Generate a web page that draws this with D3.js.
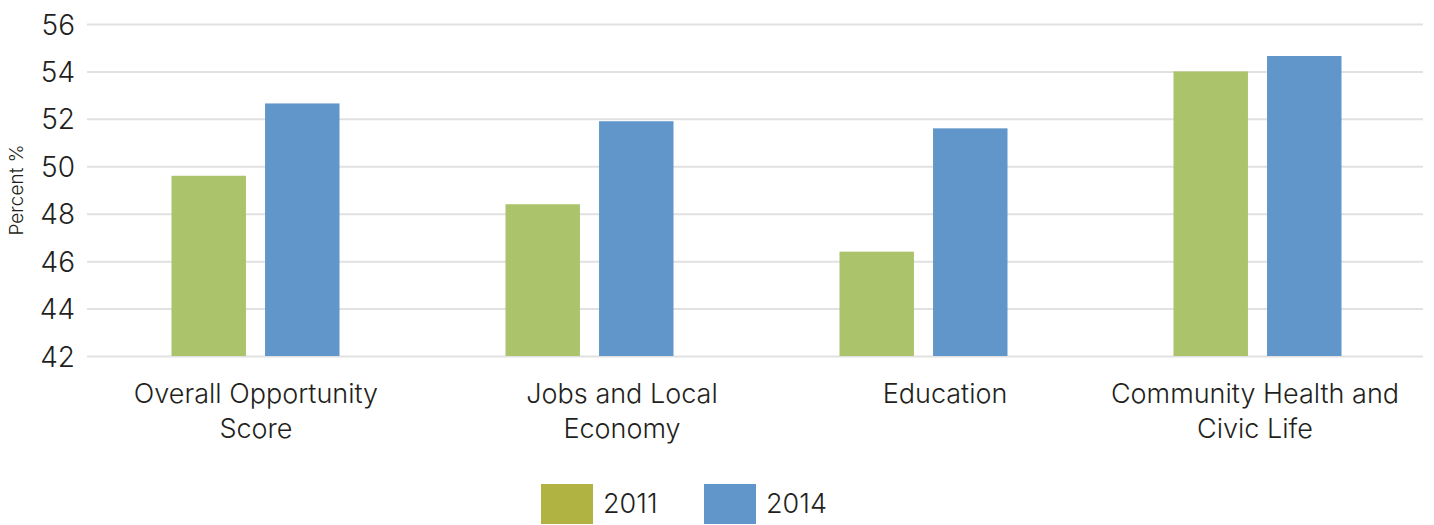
<!DOCTYPE html>
<html>
<head>
<meta charset="utf-8">
<script src="https://cdn.jsdelivr.net/npm/d3@7/dist/d3.min.js"></script>
<style>
  html, body { margin: 0; padding: 0; background: #fff; }
  svg { display: block; }
  text { font-family: Inter, "Liberation Sans", Arial, sans-serif; font-weight: 300; fill: #231f20; }
</style>
</head>
<body>
<svg id="chart" width="1434" height="525"></svg>
<script>
const categories = [
  ["Overall Opportunity", "Score"],
  ["Jobs and Local", "Economy"],
  ["Education"],
  ["Community Health and", "Civic Life"]
];
const seriesNames = ["2011", "2014"];
const values2011 = [49.6, 48.4, 46.4, 54.0];
const values2014 = [52.65, 51.9, 51.6, 54.65];
const yTicks = [42, 44, 46, 48, 50, 52, 54, 56];

const barColors = ["#abc46c", "#6096c9"];
const legendColors = ["#b0b241", "#6096c9"];
// horizontal offsets of each category label from its band centre (layout)
const labelShift = [0, 32, 21, -3];

const svg = d3.select("#chart");
const plot = { left: 87, right: 1423, top: 24, bottom: 356 };

const catKeys = categories.map((c, i) => i);
const x0 = d3.scaleBand().domain(catKeys).range([plot.left, plot.right]).padding(0);
const x1 = d3.scaleBand().domain(seriesNames)
  .range([x0.bandwidth() / 2 - 82.5, x0.bandwidth() / 2 + 85.5])
  .paddingInner(0.204).paddingOuter(0);
const y = d3.scaleLinear().domain([42, 56]).range([plot.bottom, plot.top]);

// gridlines
const grid = d3.axisLeft(y).tickValues(yTicks).tickSize(-(plot.right - plot.left)).tickFormat("");
svg.append("g").attr("transform", `translate(${plot.left},0)`).call(grid)
  .call(g => g.select(".domain").remove())
  .call(g => g.selectAll("line").attr("stroke", "#e1e1e1").attr("stroke-width", 2));

// y tick labels
const yAxis = d3.axisLeft(y).tickValues(yTicks).tickSize(0).tickPadding(12);
svg.append("g").attr("transform", `translate(${plot.left},0)`).call(yAxis)
  .call(g => g.select(".domain").remove())
  .call(g => g.selectAll("text").attr("font-size", 28).attr("dy", "0.36em")
    .style("font-family", "Inter, 'Liberation Sans', Arial, sans-serif")
    .style("font-weight", 300).attr("fill", "#231f20"));

// y title
svg.append("text")
  .attr("transform", `translate(23,190) rotate(-90)`)
  .attr("text-anchor", "middle")
  .attr("font-size", 19)
  .style("font-weight", 300)
  .text("Percent %");

// bars
const data = catKeys.map(i => ({ i, vals: [values2011[i], values2014[i]] }));
const groups = svg.append("g").selectAll("g").data(data).join("g")
  .attr("transform", d => `translate(${x0(d.i)},0)`);
groups.selectAll("rect").data(d => d.vals.map((v, k) => ({ k, v }))).join("rect")
  .attr("x", d => x1(seriesNames[d.k]))
  .attr("width", x1.bandwidth())
  .attr("y", d => y(d.v))
  .attr("height", d => y(42) - y(d.v))
  .attr("fill", d => barColors[d.k]);

// category labels
const labels = svg.append("g").selectAll("text").data(data).join("text")
  .attr("x", d => x0(d.i) + x0.bandwidth() / 2 + 2 + labelShift[d.i])
  .attr("y", 403)
  .attr("text-anchor", "middle")
  .attr("font-size", 27);
labels.selectAll("tspan").data(d => categories[d.i]).join("tspan")
  .attr("x", function() { return d3.select(this.parentNode).attr("x"); })
  .attr("dy", (d, j) => j === 0 ? 0 : 35)
  .text(d => d);

// legend
const legend = svg.append("g");
const legendX = [541, 704];
seriesNames.forEach((s, k) => {
  legend.append("rect").attr("x", legendX[k]).attr("y", 484).attr("width", 52).attr("height", 40)
    .attr("fill", legendColors[k]);
  legend.append("text").attr("x", legendX[k] + 62).attr("y", 513).attr("font-size", 27).text(s);
});
</script>
</body>
</html>
